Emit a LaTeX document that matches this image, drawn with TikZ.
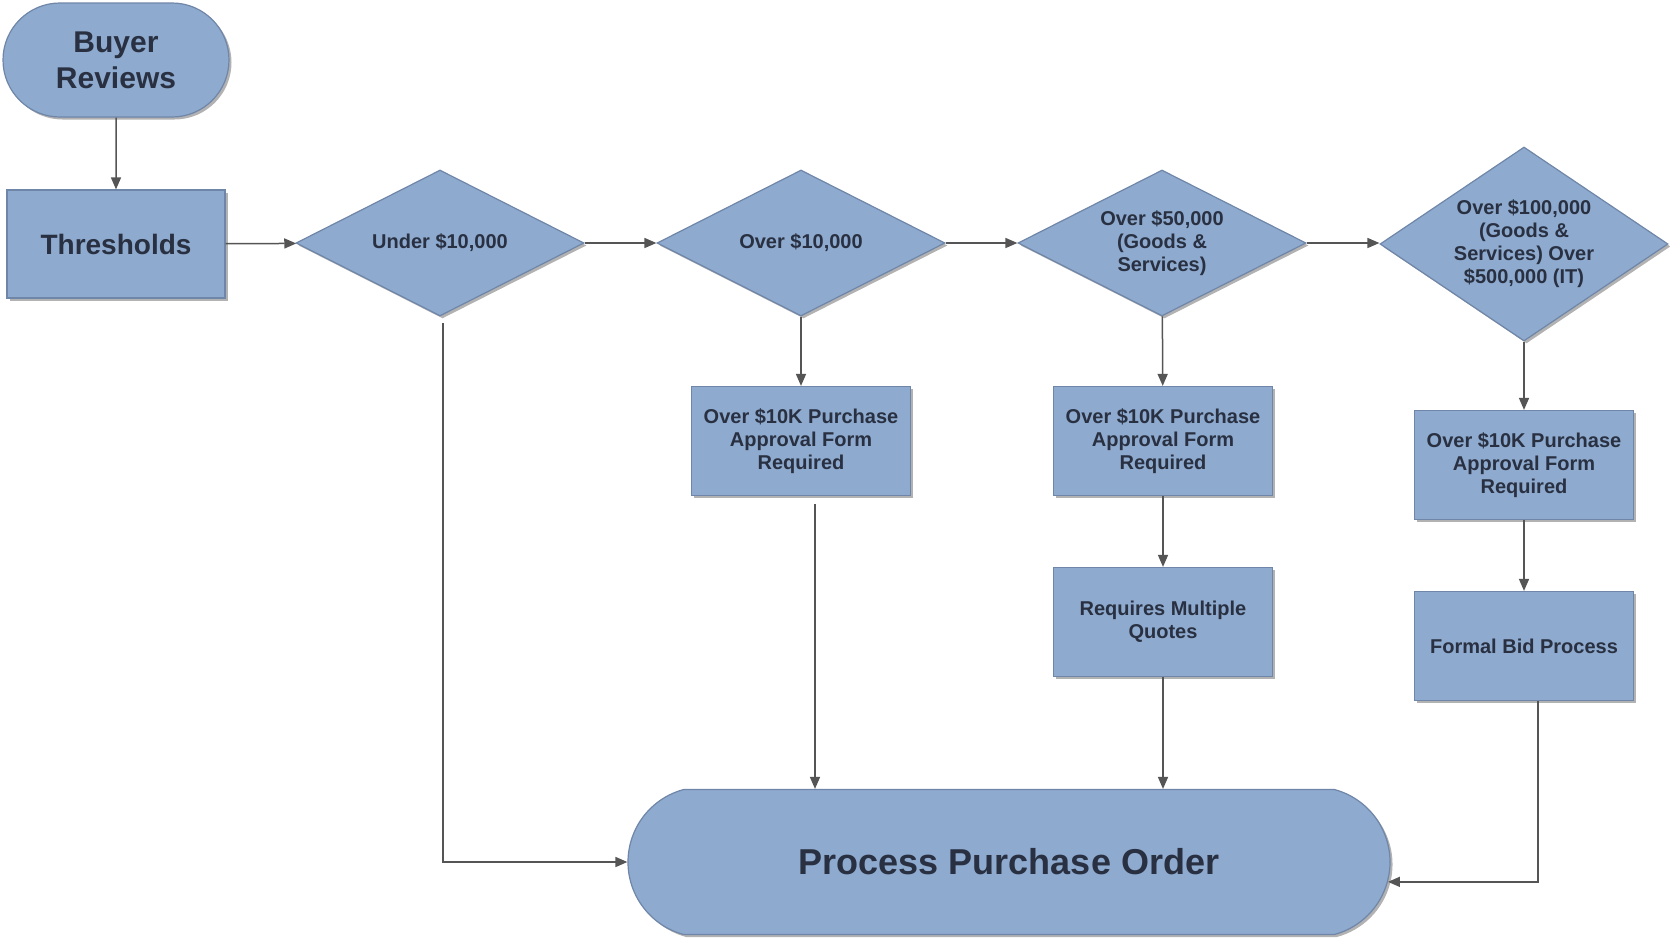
\documentclass[tikz,border=0pt]{standalone}
\usepackage{fontspec}
\setmainfont{Liberation Sans}
\usetikzlibrary{shapes.geometric,shapes.misc,arrows.meta,shadows}
\definecolor{boxfill}{HTML}{8EAACE}
\definecolor{boxline}{HTML}{6F86A8}
\definecolor{txt}{HTML}{283041}
\definecolor{conn}{HTML}{555555}
\begin{document}
\begin{tikzpicture}[x=1pt,y=-1pt,
  base/.style={fill=boxfill, draw=boxline, line width=1.2pt, text=txt, align=center, inner sep=0pt,
    drop shadow={shadow xshift=2.5pt, shadow yshift=-2.5pt, fill=black, opacity=0.3}},
  small/.style={font=\bfseries\fontsize{20}{23}\selectfont},
  term/.style={base, rounded rectangle},
  procbox/.style={base, rectangle, minimum width=219pt, minimum height=109pt, small},
  decision/.style={base, diamond, minimum width=288pt, minimum height=146pt},
  dtext/.style={text=txt, align=center, inner sep=0pt, small},
  arr/.style={draw=conn, line width=1.5pt, -{Triangle[length=12pt,width=10pt]}},
  plain/.style={draw=conn, line width=1.5pt}
]
\useasboundingbox (0,0) rectangle (1670,937);
\fill[white] (0,0) rectangle (1670,937);

\node[term, minimum width=226pt, minimum height=114pt, font=\bfseries\fontsize{30}{36}\selectfont] (br) at (116,60) {Buyer\\Reviews};
\node[base, rectangle, minimum width=218pt, minimum height=108pt, font=\bfseries\fontsize{28}{34}\selectfont] (th) at (116,244) {Thresholds};

\node[decision] (d1) at (440,243) {};
\node[dtext] (t1) at (d1) {Under \$10,000};
\node[decision] (d2) at (801,243) {};
\node[dtext] (t2) at (d2) {Over \$10,000};
\node[decision] (d3) at (1162,243) {};
\node[dtext] (t3) at (d3) {Over \$50,000\\(Goods \&\\Services)};
\node[decision, minimum height=194pt] (d4) at (1524,244) {};
\node[dtext] (t4) at (d4) {Over \$100,000\\(Goods \&\\Services) Over\\\$500,000 (IT)};

\node[procbox] (bA) at (801,441) {Over \$10K Purchase\\Approval Form\\Required};
\node[procbox] (bB) at (1163,441) {Over \$10K Purchase\\Approval Form\\Required};
\node[procbox] (bC) at (1163,622) {Requires Multiple\\Quotes};
\node[procbox] (bD) at (1524,465) {Over \$10K Purchase\\Approval Form\\Required};
\node[procbox] (bE) at (1524,646) {Formal Bid Process};

\node[term, rounded rectangle arc length=150, minimum width=762pt, minimum height=145pt, font=\bfseries\fontsize{36}{40}\selectfont] (ppo) at (1009,862) {Process Purchase Order};

\draw[arr] (br) -- (th);
\draw[arr] (th) -- (d1);
\draw[arr] (d1) -- (d2);
\draw[arr] (d2) -- (d3);
\draw[arr] (d3.east) -- (d4.west |- d3.east);
\draw[arr] (d2) -- (bA);
\draw[arr] (d3) -- (bB);
\draw[arr] (bB) -- (bC);
\draw[arr] (d4) -- (bD);
\draw[arr] (bD) -- (bE);

\coordinate (c1) at (443,323);
\coordinate (c2) at (815,504);
\coordinate (c3) at (1538,701);
\draw[arr] (c1) |- (ppo.west);
\draw[arr] (c2) -- (c2 |- ppo.north);
\draw[arr] (bC.south) -- (bC.south |- ppo.north);
\draw[arr] (c3) |- (ppo.-3);
\end{tikzpicture}
\end{document}
